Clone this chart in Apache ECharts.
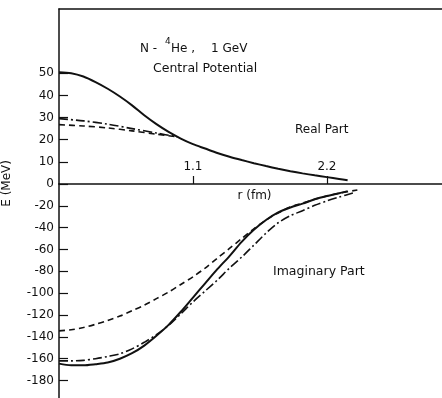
<!DOCTYPE html>
<html><head><meta charset="utf-8">
<script src="https://cdn.jsdelivr.net/npm/echarts@6/dist/echarts.min.js"></script>
<style>html,body{margin:0;padding:0;background:#fff}#c{width:442px;height:398px}</style>
</head><body><div id="c"></div>
<script>
// Real part (MeV) vs r (fm)
const realSolidR = [0,0.1,0.2,0.3,0.4,0.5,0.6,0.7,0.8,0.9,1.0,1.1,1.2,1.3,1.4,1.5,1.6,1.7,1.8,1.9,2.0,2.1,2.2,2.3,2.37];
const realSolidE = [50.5,50,48.5,46,43,39.5,35.5,31,27,23.5,20.5,18,16,14,12.3,10.8,9.4,8.1,6.9,5.8,4.8,3.9,3.1,2.3,1.7];
const realDashDotR = [0,0.2,0.4,0.6,0.8,0.97];
const realDashDotE = [29.5,28.5,27,25,23,21.3];
const realDashedR = [0,0.2,0.4,0.6,0.8,0.97];
const realDashedE = [26.8,26.2,25.3,24,22.5,21.3];
// Imaginary part (MeV) vs r (fm)
const imSolidR = [0,0.1,0.2,0.3,0.4,0.5,0.6,0.7,0.8,0.9,1.0,1.1,1.2,1.3,1.4,1.5,1.6,1.7,1.8,1.9,2.0,2.1,2.2,2.3,2.37];
const imSolidE = [-164.5,-166,-166,-165,-163.5,-160,-155,-148,-139,-129,-117,-104,-91,-78,-66,-53,-42,-33,-26,-21.5,-18,-14,-11,-8.5,-6.5];
const imDashDotR = [0,0.1,0.2,0.3,0.4,0.5,0.6,0.7,0.8,0.9,1.0,1.1,1.2,1.3,1.4,1.5,1.6,1.7,1.8,1.9,2.0,2.1,2.2,2.3,2.42];
const imDashDotE = [-162,-162,-161.5,-160,-158,-155.5,-151,-145,-138,-129.5,-119,-108,-98,-88,-77,-67,-56,-45,-35.5,-29,-24.5,-19.5,-15.5,-12,-8];
const imDashedR = [0,0.1,0.2,0.3,0.4,0.5,0.6,0.7,0.8,0.9,1.0,1.1,1.2,1.3,1.4,1.5,1.6,1.7,1.8,1.9,2.0,2.1,2.2,2.3,2.45];
const imDashedE = [-134.5,-133.5,-131.5,-128.5,-125,-121,-116,-111,-105,-99,-92,-85,-77,-68,-59,-50,-41,-33,-26.5,-21,-17.5,-14,-11,-8.5,-5.5];
// Tick labels
const xTicks = [1.1, 2.2];
const yTicksReal = [0,10,20,30,40,50];
const yTicksImag = [-180,-160,-140,-120,-100,-80,-60,-40,-20];

const FONT = 'DejaVu Sans';
const INK = '#111';
const pairs = (xs, ys) => xs.map((x, i) => [x, ys[i]]);

const chart = echarts.init(document.getElementById('c'), null, {renderer: 'canvas'});
const lineSolid = {color: INK, width: 2, type: 'solid'};
const lineDash = {color: INK, width: 1.6, type: [6, 4]};
const lineDashDot = {color: INK, width: 1.6, type: [9, 3, 2, 3]};

function mkSeries(name, xs, ys, style, xi, yi) {
  return {name, type: 'line', data: pairs(xs, ys), xAxisIndex: xi, yAxisIndex: yi,
    showSymbol: false, symbol: 'none', smooth: 0.3, lineStyle: style, silent: true, animation: false, z: 3};
}

const txt = (text, x, y, extra) => ({type: 'text', left: x, top: y,
  style: Object.assign({text, fill: INK, font: '12px ' + FONT}, extra || {})});

chart.setOption({
  backgroundColor: '#fff',
  animation: false,
  grid: [
    {left: 59, right: 0, top: 9, height: 175, containLabel: false},
    {left: 59, right: 0, top: 184, height: 214, containLabel: false}
  ],
  xAxis: [
    {type: 'value', gridIndex: 0, position: 'bottom', min: 0, max: 3.145,
      axisLine: {show: true, onZero: false, lineStyle: {color: INK, width: 1.5}},
      axisTick: {show: true, inside: true, length: 8, customValues: xTicks, lineStyle: {color: INK, width: 1.2}},
      axisLabel: {show: true, inside: true, margin: 11, customValues: xTicks, color: INK, fontFamily: FONT, fontSize: 12,
        formatter: v => v.toFixed(1)},
      splitLine: {show: false},
      name: 'r (fm)', nameLocation: 'middle', nameGap: 6,
      nameTextStyle: {color: INK, fontFamily: FONT, fontSize: 12, verticalAlign: 'top', padding: [0, 0, 0, 8]}},
    {type: 'value', gridIndex: 0, position: 'top', min: 0, max: 3.145,
      axisLine: {show: true, onZero: false, lineStyle: {color: INK, width: 1.5}},
      axisTick: {show: false}, axisLabel: {show: false}, splitLine: {show: false}},
    {type: 'value', gridIndex: 1, position: 'top', min: 0, max: 3.145, show: false}
  ],
  yAxis: [
    {type: 'value', gridIndex: 0, min: 0, max: 79,
      axisLine: {show: true, onZero: false, lineStyle: {color: INK, width: 1.5}},
      axisTick: {show: true, inside: true, length: 9, customValues: yTicksReal, lineStyle: {color: INK, width: 1.2}},
      axisLabel: {show: true, margin: 5, customValues: yTicksReal, color: INK, fontFamily: FONT, fontSize: 12},
      splitLine: {show: false}},
    {type: 'value', gridIndex: 1, min: -196, max: 0,
      axisLine: {show: true, onZero: false, lineStyle: {color: INK, width: 1.5}},
      axisTick: {show: true, inside: true, length: 9, customValues: yTicksImag, lineStyle: {color: INK, width: 1.2}},
      axisLabel: {show: true, margin: 5, customValues: yTicksImag, color: INK, fontFamily: FONT, fontSize: 12},
      splitLine: {show: false}}
  ],
  series: [
    mkSeries('Re solid', realSolidR, realSolidE, lineSolid, 0, 0),
    mkSeries('Re dash-dot', realDashDotR, realDashDotE, lineDashDot, 0, 0),
    mkSeries('Re dashed', realDashedR, realDashedE, lineDash, 0, 0),
    mkSeries('Im solid', imSolidR, imSolidE, lineSolid, 2, 1),
    mkSeries('Im dash-dot', imDashDotR, imDashDotE, lineDashDot, 2, 1),
    mkSeries('Im dashed', imDashedR, imDashedE, lineDash, 2, 1)
  ],
  graphic: [
    txt('N -', 140, 43),
    txt('4', 165, 37, {font: '9px ' + FONT}),
    txt('He ,', 171, 43),
    txt('1 GeV', 211, 43),
    txt('Central Potential', 153, 62, {font: '12.5px ' + FONT}),
    txt('Real Part', 295, 124),
    txt('Imaginary Part', 273, 265, {font: '12.5px ' + FONT}),
    {type: 'text', left: 1, top: 160, rotation: Math.PI / 2,
      style: {text: 'E (MeV)', fill: INK, font: '12px ' + FONT}}
  ]
});
</script></body></html>
